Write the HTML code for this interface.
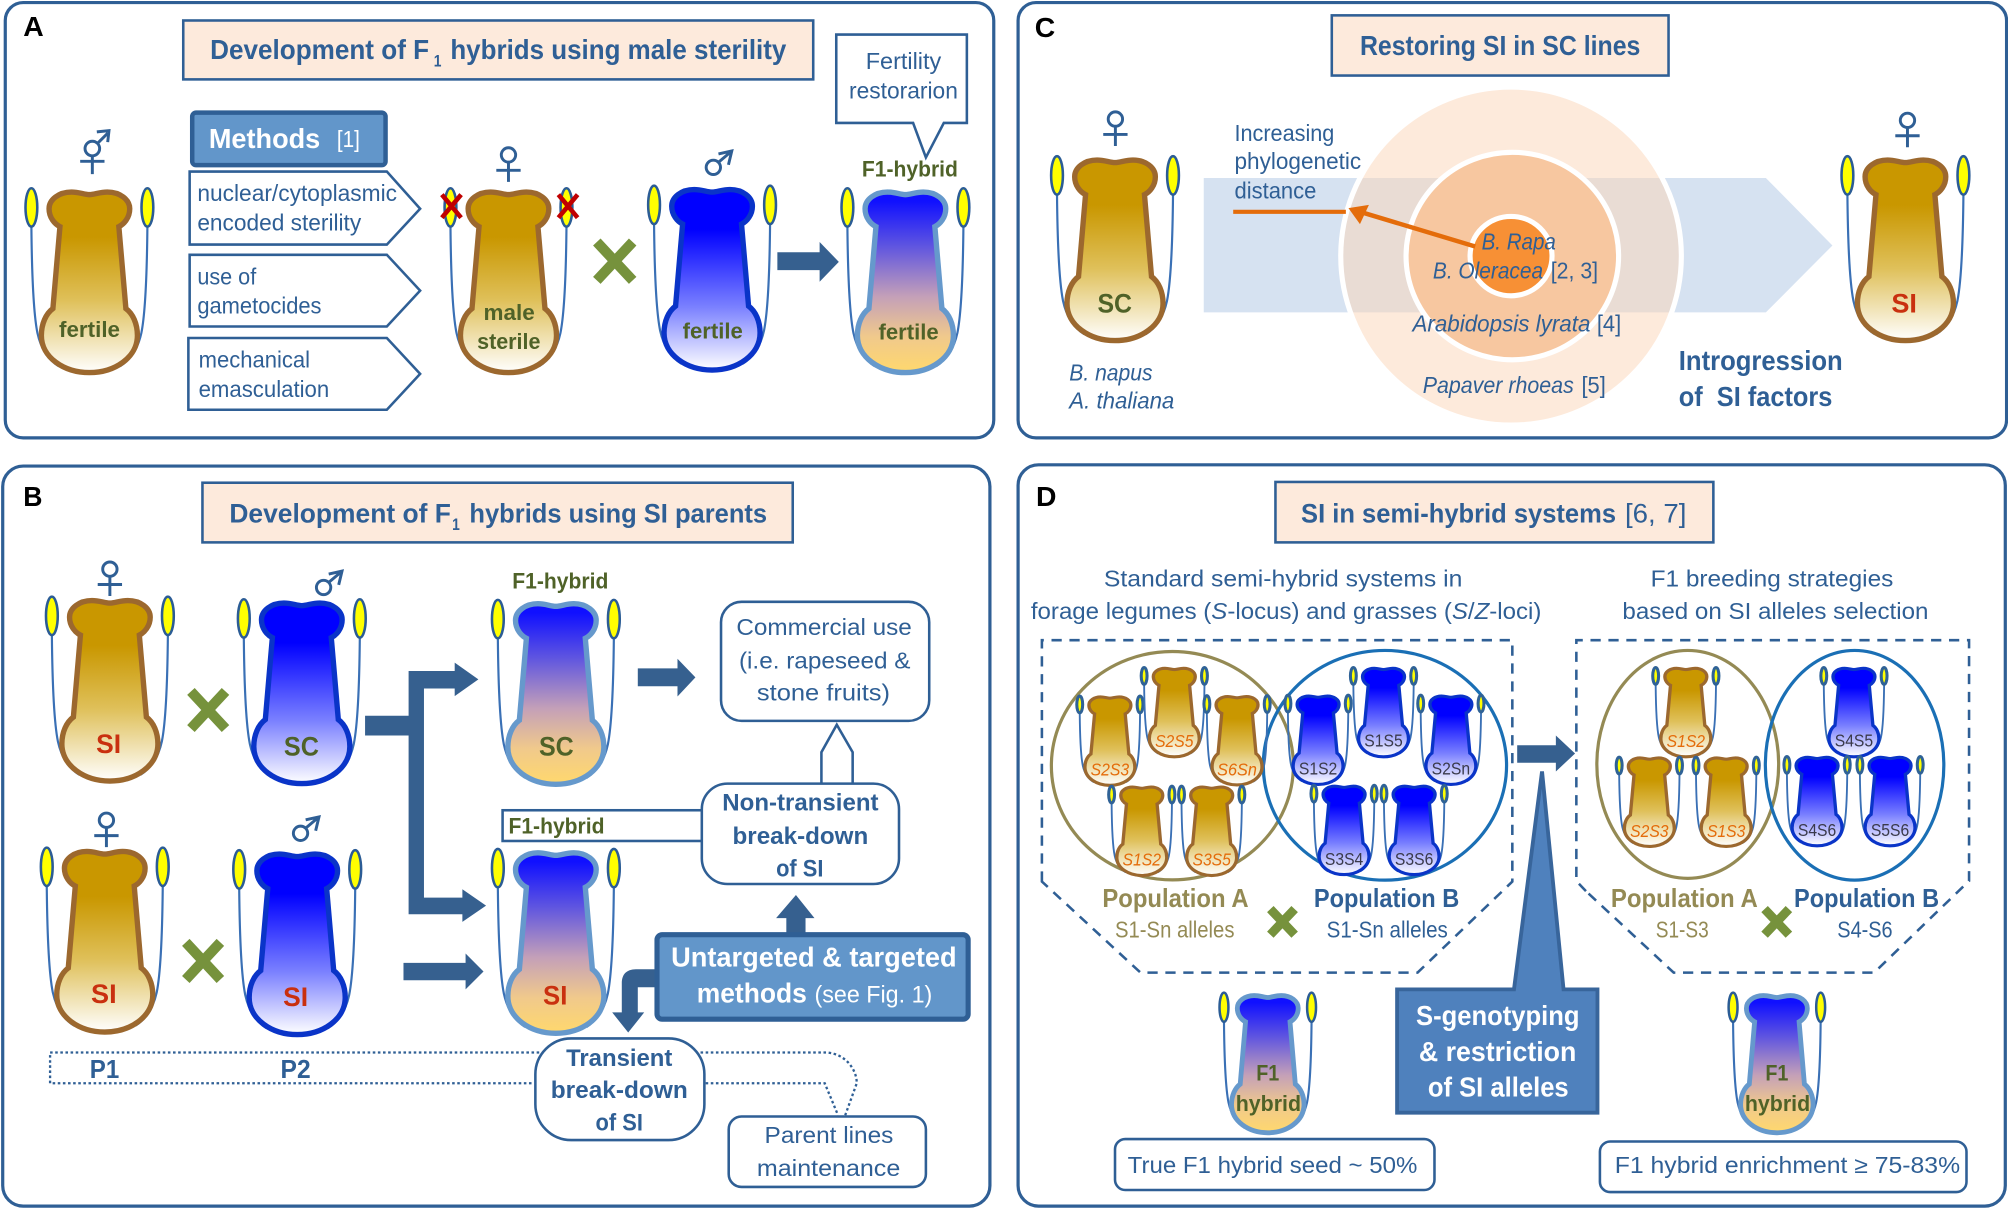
<!DOCTYPE html>
<html><head><meta charset="utf-8"><title>F1 hybrid breeding diagram</title>
<style>
html,body{margin:0;padding:0;background:#fff}
svg{display:block}
text{font-family:"Liberation Sans",sans-serif;fill:#2f5f95;font-size:18px}
.t{font-weight:bold;font-size:22px}
.b{font-weight:bold;font-size:20px}
.l{font-weight:bold;fill:#000;font-size:22px}
.o{font-weight:bold;fill:#4f6228;font-size:17px}
.w{font-weight:bold;fill:#fff;font-size:22px}
.r{font-weight:bold;fill:#c9300f;font-size:21px}
.g{font-weight:bold;fill:#4f6228;font-size:21px}
.i{font-style:italic}
.sa{font-style:italic;fill:#e46c0a;font-size:14px}
.sb{fill:#3a3a4a;font-size:14px}
.pa{font-weight:bold;fill:#948a54;font-size:20px}
.pl{fill:#948a54;font-size:18px}
.panel{fill:#fff;stroke:#2f5f95;stroke-width:2.5}
.tb{fill:#fdeadc;stroke:#2f5f95;stroke-width:2}
.bx{fill:#fff;stroke:#2f5f95;stroke-width:2}
.ar{fill:#36608f}
.x{stroke:#76923c;fill:none}
.sym{fill:none;stroke:#2f5f95;stroke-width:2.3}
.dot{fill:none;stroke:#2f5f95;stroke-width:1.8;stroke-dasharray:2 2}
.dash{fill:none;stroke:#2f5f95;stroke-width:2;stroke-dasharray:8 6}
</style></head><body>
<svg xmlns="http://www.w3.org/2000/svg" width="2008" height="1210" viewBox="0 0 1568 945">
<defs>
<linearGradient id="gg" x1="0" y1="0" x2="0" y2="1"><stop offset="0.25" stop-color="#c99700"/><stop offset="0.6" stop-color="#dfc05a"/><stop offset="1" stop-color="#ffffff"/></linearGradient>
<linearGradient id="gb" x1="0" y1="0" x2="0" y2="1"><stop offset="0.22" stop-color="#0000ff"/><stop offset="0.65" stop-color="#7a80ff"/><stop offset="1" stop-color="#ffffff"/></linearGradient>
<linearGradient id="gh" x1="0" y1="0" x2="0" y2="1"><stop offset="0.05" stop-color="#1010ff"/><stop offset="0.3" stop-color="#5f55e0"/><stop offset="0.58" stop-color="#c4a0b8"/><stop offset="0.8" stop-color="#f0c98c"/><stop offset="1" stop-color="#ffd86d"/></linearGradient>
<path id="fp" d="M-45.3,29 C-45,60 -44,95 -40.6,112 C-38,124 -32,133 -24,138 M45.3,29 C45,60 44,95 40.6,112 C38,124 32,133 24,138" fill="none" stroke="#3a70b5"/>
<g id="fil">
<use href="#fp" stroke-width="1.7"/>
<ellipse cx="-45.3" cy="14" rx="4.6" ry="15" fill="#ffff00" stroke="#2b5c95" stroke-width="2"/>
<ellipse cx="45.3" cy="14" rx="4.6" ry="15" fill="#ffff00" stroke="#2b5c95" stroke-width="2"/>
</g>
<g id="film">
<use href="#fp" stroke-width="2.2"/>
<ellipse cx="-45.3" cy="14" rx="4.6" ry="15" fill="#ffff00" stroke="#2b5c95" stroke-width="2.6"/>
<ellipse cx="45.3" cy="14" rx="4.6" ry="15" fill="#ffff00" stroke="#2b5c95" stroke-width="2.6"/>
</g>
<g id="fils">
<use href="#fp" stroke-width="2.8"/>
<ellipse cx="-45.3" cy="14" rx="4.4" ry="13.5" fill="#ffff00" stroke="#2f6296" stroke-width="4.6"/>
<ellipse cx="45.3" cy="14" rx="4.4" ry="13.5" fill="#ffff00" stroke="#2f6296" stroke-width="4.6"/>
</g>
<path id="pp" d="M0,4 C4,4 8,2 14,2 C24,2 31.5,8 31.5,15 C31.5,22 27,27 23,29 L28.5,93 C34,97 37.5,105 37.5,114 C37.5,131 20,143 0,143 C-20,143 -37.5,131 -37.5,114 C-37.5,105 -34,97 -28.5,93 L-23,29 C-27,27 -31.5,22 -31.5,15 C-31.5,8 -24,2 -14,2 C-8,2 -4,4 0,4 Z"/>
<g id="pg"><use href="#fil"/><use href="#pp" fill="url(#gg)" stroke="#9c682e" stroke-width="4.2"/></g>
<g id="pb"><use href="#fil"/><use href="#pp" fill="url(#gb)" stroke="#0a34c8" stroke-width="4.2"/></g>
<g id="ph"><use href="#fil"/><use href="#pp" fill="url(#gh)" stroke="#6699cc" stroke-width="4.2"/></g>
<g id="phm"><use href="#film"/><use href="#pp" fill="url(#gh)" stroke="#6699cc" stroke-width="5"/></g>
<g id="pgs"><use href="#fils"/><use href="#pp" fill="url(#gg)" stroke="#9c682e" stroke-width="5"/></g>
<g id="pbs"><use href="#fils"/><use href="#pp" fill="url(#gb)" stroke="#0a34c8" stroke-width="5"/></g>
<g id="fe" class="sym"><circle cx="0" cy="0" r="5.6"/><path d="M0,5.6 V21 M-9.5,12 H9.5"/></g>
<g id="ma" class="sym"><circle cx="0" cy="0" r="5.6"/><path d="M3.8,-3.8 L13.5,-12 M4,-10.5 L14.4,-12.8 L11.8,-2"/></g>
</defs>

<!-- PANELS -->
<rect class="panel" x="4" y="2" width="772" height="340" rx="14"/>
<rect class="panel" x="795" y="2" width="772" height="340" rx="14"/>
<rect class="panel" x="2" y="364" width="771" height="578" rx="16"/>
<rect class="panel" x="795" y="363" width="771" height="579" rx="16"/>
<text class="l" x="18" y="28" textLength="16" lengthAdjust="spacingAndGlyphs">A</text>
<text class="l" x="808" y="29" textLength="16" lengthAdjust="spacingAndGlyphs">C</text>
<text class="l" x="18" y="395" textLength="15" lengthAdjust="spacingAndGlyphs">B</text>
<text class="l" x="809" y="395" textLength="16" lengthAdjust="spacingAndGlyphs">D</text>

<!-- PANEL A -->
<rect class="tb" x="143" y="16" width="492" height="46"/>
<text class="t" x="164" y="46" textLength="171" lengthAdjust="spacingAndGlyphs">Development of F</text>
<text class="t" style="font-size:13px" x="338.6" y="52" textLength="6" lengthAdjust="spacingAndGlyphs">1</text>
<text class="t" x="351.6" y="46" textLength="262.4" lengthAdjust="spacingAndGlyphs">hybrids using male sterility</text>

<path d="M653,27 H755 V96 H737 L723,123 L713,96 H653 Z" class="bx"/>
<text x="676" y="54" textLength="59" lengthAdjust="spacingAndGlyphs">Fertility</text>
<text x="663" y="77" textLength="85" lengthAdjust="spacingAndGlyphs">restorarion</text>
<text class="o" x="673" y="138" textLength="75" lengthAdjust="spacingAndGlyphs">F1-hybrid</text>

<rect x="150" y="88" width="151" height="41" rx="3" fill="#6296ca" stroke="#2f5f95" stroke-width="3.5"/>
<text class="w" x="163" y="115.5" textLength="87" lengthAdjust="spacingAndGlyphs">Methods</text>
<text x="263" y="115" style="fill:#fff;font-size:18px" textLength="18" lengthAdjust="spacingAndGlyphs">[1]</text>

<path class="bx" d="M148,134 H302 L328,163 L302,191 H148 Z"/>
<path class="bx" d="M148,199 H302 L328,227 L302,255 H148 Z"/>
<path class="bx" d="M147,264 H302 L328,292 L302,320 H147 Z"/>
<text x="154" y="157" textLength="156" lengthAdjust="spacingAndGlyphs">nuclear/cytoplasmic</text>
<text x="154" y="180" textLength="128" lengthAdjust="spacingAndGlyphs">encoded sterility</text>
<text x="154" y="222" textLength="46" lengthAdjust="spacingAndGlyphs">use of</text>
<text x="154" y="245" textLength="97" lengthAdjust="spacingAndGlyphs">gametocides</text>
<text x="155" y="287" textLength="87" lengthAdjust="spacingAndGlyphs">mechanical</text>
<text x="155" y="310" textLength="102" lengthAdjust="spacingAndGlyphs">emasculation</text>

<use href="#pg" transform="translate(69.7,148)"/>
<use href="#pg" transform="translate(397,148)"/>
<use href="#pb" transform="translate(556,146)"/>
<use href="#ph" transform="translate(707,148)"/>
<text class="o" x="46" y="263" textLength="47.6" lengthAdjust="spacingAndGlyphs">fertile</text>
<text class="o" x="377.5" y="250" textLength="40" lengthAdjust="spacingAndGlyphs">male</text>
<text class="o" x="372.5" y="272.6" textLength="49.5" lengthAdjust="spacingAndGlyphs">sterile</text>
<text class="o" x="533" y="264.3" textLength="47" lengthAdjust="spacingAndGlyphs">fertile</text>
<text class="o" x="686" y="265" textLength="47" lengthAdjust="spacingAndGlyphs">fertile</text>
<path d="M345,152 L360,170 M360,152 L345,170 M436,152 L451,170 M451,152 L436,170" stroke="#c00000" stroke-width="3.6" fill="none"/>
<path class="x" stroke-width="8" d="M466,189 L494,219 M494,189 L466,219"/>
<polygon class="ar" points="607,197 640,197 640,189 655,204.5 640,220 640,211 607,211"/>

<g class="sym"><circle cx="72" cy="116" r="5.7"/><path d="M76,112 L84,104 M75.5,103 L85,102 L84,111 M72,122 V136 M62.5,126 H81.5"/></g>
<use href="#fe" x="397" y="121"/>
<use href="#ma" x="557" y="130.7"/>

<!-- PANEL C -->
<rect class="tb" x="1040" y="12" width="263" height="47"/>
<text class="t" x="1062" y="43" textLength="219" lengthAdjust="spacingAndGlyphs">Restoring SI in SC lines</text>
<polygon points="940,139 1379,139 1431,191.7 1379,244 940,244" fill="#d6e2f1"/>
<ellipse cx="1180" cy="200" rx="133" ry="132" fill="#fbd5b7" fill-opacity="0.5" stroke="#fff" stroke-width="4"/>
<ellipse cx="1181" cy="200" rx="83" ry="81" fill="#f7c7a0" stroke="#fff" stroke-width="4"/>
<ellipse cx="1180" cy="200" rx="32" ry="31" fill="#f79035" stroke="#fff" stroke-width="4"/>
<path d="M963,165.4 H1051" stroke="#e46c0a" stroke-width="3.2" fill="none"/>
<path d="M1152,192.5 L1064,166" stroke="#e46c0a" stroke-width="3.5" fill="none"/>
<polygon points="1053,162.5 1069,160 1062,175" fill="#e46c0a"/>
<text x="964" y="110" textLength="78" lengthAdjust="spacingAndGlyphs">Increasing</text>
<text x="964" y="132" textLength="99" lengthAdjust="spacingAndGlyphs">phylogenetic</text>
<text x="964" y="155" textLength="64" lengthAdjust="spacingAndGlyphs">distance</text>
<text class="i" x="1157" y="195" textLength="58" lengthAdjust="spacingAndGlyphs">B. Rapa</text>
<text class="i" x="1119" y="217.5" textLength="86" lengthAdjust="spacingAndGlyphs">B. Oleracea</text>
<text x="1211" y="217.5" textLength="37" lengthAdjust="spacingAndGlyphs">[2, 3]</text>
<text class="i" x="1103" y="259" textLength="139" lengthAdjust="spacingAndGlyphs">Arabidopsis lyrata</text>
<text x="1247" y="259" textLength="19" lengthAdjust="spacingAndGlyphs">[4]</text>
<text class="i" x="1111" y="307" textLength="118" lengthAdjust="spacingAndGlyphs">Papaver rhoeas</text>
<text x="1235" y="307" textLength="19" lengthAdjust="spacingAndGlyphs">[5]</text>
<text class="t" x="1311" y="289" textLength="128" lengthAdjust="spacingAndGlyphs">Introgression</text>
<text class="t" x="1311" y="317" textLength="120" lengthAdjust="spacingAndGlyphs">of&#160; SI factors</text>
<use href="#pg" transform="translate(870.7,123)"/>
<use href="#pg" transform="translate(1488,123)"/>
<use href="#fe" x="871" y="93"/>
<use href="#fe" x="1489.6" y="94"/>
<text class="g" x="857" y="244" textLength="27" lengthAdjust="spacingAndGlyphs">SC</text>
<text class="r" x="1477" y="244" textLength="20" lengthAdjust="spacingAndGlyphs">SI</text>
<text class="i" x="835" y="297" textLength="65" lengthAdjust="spacingAndGlyphs">B. napus</text>
<text class="i" x="835" y="319" textLength="82" lengthAdjust="spacingAndGlyphs">A. thaliana</text>

<!-- PANEL B -->
<rect class="tb" x="158" y="377" width="461" height="46.6"/>
<text class="t" style="font-size:21px" x="179" y="408" textLength="173" lengthAdjust="spacingAndGlyphs">Development of F</text>
<text class="t" style="font-size:13px" x="353" y="414" textLength="6" lengthAdjust="spacingAndGlyphs">1</text>
<text class="t" style="font-size:21px" x="366.5" y="408" textLength="232.5" lengthAdjust="spacingAndGlyphs">hybrids using SI parents</text>

<!-- dotted parent line -->
<path class="dot" d="M421,822 H39 V846 H417"/>
<path class="dot" d="M547,822 H645.6 C660,823 669,835 669,846 L660,871"/>
<path class="dot" d="M551,846 H644 L654.4,871"/>
<text class="b" x="70" y="842" textLength="23" lengthAdjust="spacingAndGlyphs">P1</text>
<text class="b" x="219" y="842" textLength="23.5" lengthAdjust="spacingAndGlyphs">P2</text>

<use href="#pg" transform="translate(85.7,467)"/>
<use href="#pb" transform="translate(235.6,469)"/>
<use href="#ph" transform="translate(434,469.5)"/>
<use href="#pg" transform="translate(81.7,663)"/>
<use href="#pb" transform="translate(232,665)"/>
<use href="#ph" transform="translate(434,664)"/>
<use href="#fe" x="85.7" y="444.5"/>
<use href="#ma" x="252.6" y="458.8"/>
<use href="#fe" x="83" y="640.6"/>
<use href="#ma" x="234.6" y="650.8"/>
<text class="r" x="75" y="588" textLength="19.5" lengthAdjust="spacingAndGlyphs">SI</text>
<text class="g" x="221.6" y="590" textLength="27.4" lengthAdjust="spacingAndGlyphs">SC</text>
<text class="g" x="420.8" y="590" textLength="27.2" lengthAdjust="spacingAndGlyphs">SC</text>
<text class="r" x="71" y="783.5" textLength="20" lengthAdjust="spacingAndGlyphs">SI</text>
<text class="r" x="221" y="785.5" textLength="19.5" lengthAdjust="spacingAndGlyphs">SI</text>
<text class="r" x="424" y="784.5" textLength="19" lengthAdjust="spacingAndGlyphs">SI</text>
<text class="o" x="400" y="459.5" textLength="75" lengthAdjust="spacingAndGlyphs">F1-hybrid</text>
<path class="x" stroke-width="8" d="M149,540 L176,569 M176,540 L149,569"/>
<path class="x" stroke-width="8" d="M145,736 L172,765 M172,736 L145,765"/>

<!-- B arrows -->
<path class="ar" d="M285,559 H319 V524 H355 V517.5 L373.5,530.6 L355,543.7 V537.7 H331 V701 H361 V694.5 L379.5,707.3 L361,720 V714 H319 V574.4 H285 Z"/>
<polygon class="ar" points="498,522 529,522 529,514.5 543,529 529,544 529,536 498,536"/>
<polygon class="ar" points="315,752 363.5,752 363.5,744.7 377.5,758.7 363.5,772.7 363.5,765.6 315,765.6"/>

<rect class="bx" x="563" y="470" width="162.6" height="93" rx="16"/>
<text x="575" y="496" textLength="137" lengthAdjust="spacingAndGlyphs">Commercial use</text>
<text x="577" y="522" textLength="134" lengthAdjust="spacingAndGlyphs">(i.e. rapeseed &amp;</text>
<text x="591" y="547" textLength="104" lengthAdjust="spacingAndGlyphs">stone fruits)</text>
<path class="bx" d="M641.4,612 V587.5 L653.4,566 L665.8,587.5 V612"/>
<rect class="bx" x="392.4" y="632.8" width="156" height="24"/>
<text class="o" x="397" y="651" textLength="75" lengthAdjust="spacingAndGlyphs">F1-hybrid</text>
<rect class="bx" x="548" y="612" width="154" height="78.4" rx="20"/>
<text class="b" style="font-size:19px" x="564" y="633" textLength="122" lengthAdjust="spacingAndGlyphs">Non-transient</text>
<text class="b" style="font-size:19px" x="572" y="659" textLength="106" lengthAdjust="spacingAndGlyphs">break-down</text>
<text class="b" style="font-size:19px" x="606" y="684.5" textLength="37" lengthAdjust="spacingAndGlyphs">of SI</text>

<polygon class="ar" points="621.5,699 636,717 629,717 629,731 614,731 614,717 606,717"/>
<path class="ar" d="M514,757 H497 C489,757 485.5,761 485.5,768 V790.7 H478 L490.5,806.4 L503,790.7 H498 V771 H514 Z"/>
<rect x="513" y="730" width="243" height="66" rx="4" fill="#6296ca" stroke="#2f5f95" stroke-width="4"/>
<text class="w" x="524" y="755" textLength="223" lengthAdjust="spacingAndGlyphs">Untargeted &amp; targeted</text>
<text class="w" x="544" y="783" textLength="86" lengthAdjust="spacingAndGlyphs">methods</text>
<text x="636" y="783" style="fill:#fff;font-size:19px" textLength="92" lengthAdjust="spacingAndGlyphs">(see Fig. 1)</text>

<rect class="bx" x="418" y="811" width="132" height="79.4" rx="28"/>
<text class="b" style="font-size:19px" x="442" y="832.5" textLength="83" lengthAdjust="spacingAndGlyphs">Transient</text>
<text class="b" style="font-size:19px" x="430" y="857.6" textLength="107" lengthAdjust="spacingAndGlyphs">break-down</text>
<text class="b" style="font-size:19px" x="465" y="883" textLength="37" lengthAdjust="spacingAndGlyphs">of SI</text>
<rect class="bx" x="569" y="872" width="154" height="55" rx="10"/>
<text x="597" y="892.7" textLength="100.6" lengthAdjust="spacingAndGlyphs">Parent lines</text>
<text x="591" y="918.3" textLength="112" lengthAdjust="spacingAndGlyphs">maintenance</text>

<!-- PANEL D -->
<rect class="tb" x="996" y="376.4" width="342" height="47.2"/>
<text class="t" style="font-size:21px" x="1016" y="408" textLength="246" lengthAdjust="spacingAndGlyphs">SI in semi-hybrid systems</text>
<text x="1269" y="408" style="font-size:21px" textLength="48" lengthAdjust="spacingAndGlyphs">[6, 7]</text>
<text x="862" y="458" textLength="280" lengthAdjust="spacingAndGlyphs">Standard semi-hybrid systems in</text>
<text x="805" y="483.5" textLength="398.7" lengthAdjust="spacingAndGlyphs">forage legumes (<tspan class="i">S</tspan>-locus) and grasses (<tspan class="i">S</tspan>/<tspan class="i">Z</tspan>-loci)</text>
<text x="1289" y="458" textLength="189.6" lengthAdjust="spacingAndGlyphs">F1 breeding strategies</text>
<text x="1267" y="483.5" textLength="239" lengthAdjust="spacingAndGlyphs">based on SI alleles selection</text>
<path class="dash" d="M813.6,688.5 V500 H1181 V688.5 L1107,759.6 H890.6 Z"/>
<path class="dash" d="M1238.5,696 L1231,688 V500 H1537.7 V688 L1463.6,759.6 H1307 Z"/>

<ellipse cx="915.5" cy="598" rx="94.5" ry="89.2" fill="none" stroke="#948a54" stroke-width="2.5"/>
<ellipse cx="1081.5" cy="597.7" rx="95" ry="89.7" fill="none" stroke="#1a6fb5" stroke-width="2.5"/>
<ellipse cx="1318" cy="597" rx="71" ry="89" fill="none" stroke="#948a54" stroke-width="2.5"/>
<ellipse cx="1448.3" cy="597.7" rx="69.7" ry="89.7" fill="none" stroke="#1a6fb5" stroke-width="2.5"/>

<use href="#pgs" transform="translate(866.7,543.3) scale(.52,.49)"/>
<use href="#pgs" transform="translate(917,521) scale(.52,.49)"/>
<use href="#pgs" transform="translate(966,543) scale(.52,.49)"/>
<use href="#pgs" transform="translate(891.6,613.7) scale(.52,.49)"/>
<use href="#pgs" transform="translate(946.2,613.7) scale(.52,.49)"/>
<use href="#pbs" transform="translate(1029.3,542.6) scale(.52,.49)"/>
<use href="#pbs" transform="translate(1080.4,521) scale(.52,.49)"/>
<use href="#pbs" transform="translate(1133,542.6) scale(.52,.49)"/>
<use href="#pbs" transform="translate(1049.6,613) scale(.52,.49)"/>
<use href="#pbs" transform="translate(1104.3,613) scale(.52,.49)"/>
<use href="#pgs" transform="translate(1316.5,521) scale(.52,.49)"/>
<use href="#pgs" transform="translate(1288,591) scale(.52,.49)"/>
<use href="#pgs" transform="translate(1348,591) scale(.52,.49)"/>
<use href="#pbs" transform="translate(1447.8,521) scale(.52,.49)"/>
<use href="#pbs" transform="translate(1419,590.5) scale(.52,.49)"/>
<use href="#pbs" transform="translate(1476,590.5) scale(.52,.49)"/>

<text class="sa" x="851.7" y="605.5" textLength="30" lengthAdjust="spacingAndGlyphs">S2S3</text>
<text class="sa" x="902" y="583.5" textLength="30" lengthAdjust="spacingAndGlyphs">S2S5</text>
<text class="sa" x="950.5" y="605.5" textLength="31" lengthAdjust="spacingAndGlyphs">S6Sn</text>
<text class="sa" x="876.6" y="676" textLength="30" lengthAdjust="spacingAndGlyphs">S1S2</text>
<text class="sa" x="931.2" y="676" textLength="30" lengthAdjust="spacingAndGlyphs">S3S5</text>
<text class="sb" x="1014.3" y="605" textLength="30" lengthAdjust="spacingAndGlyphs">S1S2</text>
<text class="sb" x="1065.4" y="583" textLength="30" lengthAdjust="spacingAndGlyphs">S1S5</text>
<text class="sb" x="1118" y="605" textLength="30" lengthAdjust="spacingAndGlyphs">S2Sn</text>
<text class="sb" x="1034.6" y="675.5" textLength="30" lengthAdjust="spacingAndGlyphs">S3S4</text>
<text class="sb" x="1089.3" y="675.5" textLength="30" lengthAdjust="spacingAndGlyphs">S3S6</text>
<text class="sa" x="1301.5" y="583.5" textLength="30" lengthAdjust="spacingAndGlyphs">S1S2</text>
<text class="sa" x="1273" y="653.5" textLength="30" lengthAdjust="spacingAndGlyphs">S2S3</text>
<text class="sa" x="1333" y="653.5" textLength="30" lengthAdjust="spacingAndGlyphs">S1S3</text>
<text class="sb" x="1432.8" y="583" textLength="30" lengthAdjust="spacingAndGlyphs">S4S5</text>
<text class="sb" x="1404" y="653" textLength="30" lengthAdjust="spacingAndGlyphs">S4S6</text>
<text class="sb" x="1461" y="653" textLength="30" lengthAdjust="spacingAndGlyphs">S5S6</text>

<text class="pa" x="860.8" y="708.5" textLength="114.2" lengthAdjust="spacingAndGlyphs">Population A</text>
<text class="pl" x="870.7" y="732" textLength="93.3" lengthAdjust="spacingAndGlyphs">S1-Sn alleles</text>
<text class="b" x="1026" y="708.5" textLength="113.6" lengthAdjust="spacingAndGlyphs">Population B</text>
<text x="1036" y="732" textLength="94.6" lengthAdjust="spacingAndGlyphs">S1-Sn alleles</text>
<text class="pa" x="1258" y="708.5" textLength="114.7" lengthAdjust="spacingAndGlyphs">Population A</text>
<text class="pl" x="1293" y="732" textLength="41.4" lengthAdjust="spacingAndGlyphs">S1-S3</text>
<text class="b" x="1401" y="708.5" textLength="113.3" lengthAdjust="spacingAndGlyphs">Population B</text>
<text x="1434.8" y="732" textLength="43.2" lengthAdjust="spacingAndGlyphs">S4-S6</text>
<path class="x" stroke-width="7" d="M992,710 L1011,730 M1011,710 L992,730"/>
<path class="x" stroke-width="7" d="M1378,710 L1397,730 M1397,710 L1378,730"/>

<polygon class="ar" points="1184.8,582 1215,582 1215,574.4 1230,588.5 1215,602.5 1215,595.7 1184.8,595.7"/>
<path d="M1091,772.7 H1182.3 L1204.2,602.5 L1221,772.7 H1247.5 V869 H1091 Z" fill="#4f81bd" stroke="#38659b" stroke-width="3"/>
<text class="w" x="1105.8" y="800.5" textLength="127.7" lengthAdjust="spacingAndGlyphs">S-genotyping</text>
<text class="w" x="1108" y="828.5" textLength="123" lengthAdjust="spacingAndGlyphs">&amp; restriction</text>
<text class="w" x="1115" y="856.5" textLength="110" lengthAdjust="spacingAndGlyphs">of SI alleles</text>

<use href="#phm" transform="translate(990,776) scale(.755,.76)"/>
<use href="#phm" transform="translate(1387.6,776) scale(.755,.76)"/>
<text class="o" x="981" y="844" textLength="18" lengthAdjust="spacingAndGlyphs">F1</text>
<text class="o" x="965" y="867.5" textLength="51" lengthAdjust="spacingAndGlyphs">hybrid</text>
<text class="o" x="1378.6" y="844" textLength="18" lengthAdjust="spacingAndGlyphs">F1</text>
<text class="o" x="1362.6" y="867.5" textLength="51" lengthAdjust="spacingAndGlyphs">hybrid</text>
<rect class="bx" x="870.7" y="889.6" width="249.5" height="39.8" rx="8"/>
<text x="880.6" y="916" textLength="226.2" lengthAdjust="spacingAndGlyphs">True F1 hybrid seed ~ 50%</text>
<rect class="bx" x="1249.4" y="891.5" width="286.3" height="39.5" rx="8"/>
<text x="1261" y="916" textLength="269.7" lengthAdjust="spacingAndGlyphs">F1 hybrid enrichment ≥ 75-83%</text>
</svg>
</body></html>
